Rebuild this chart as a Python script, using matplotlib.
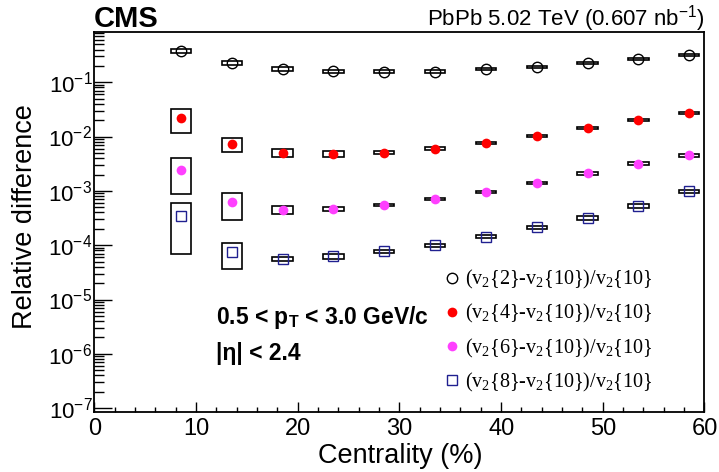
import numpy as np
import matplotlib
matplotlib.use("Agg")
import matplotlib.pyplot as plt
from matplotlib.patches import Rectangle
from matplotlib.lines import Line2D
from matplotlib.ticker import MultipleLocator, FixedLocator, NullFormatter

plt.rcParams['font.family'] = ['Liberation Sans', 'DejaVu Sans']

# centrality bin centres (%)
cent = [8.5, 13.5, 18.5, 23.5, 28.5, 33.5, 38.5, 43.5, 48.5, 53.5, 58.5]

# (v2{n}-v2{10})/v2{10}
v2_2 = [0.376, 0.224, 0.176, 0.158, 0.155, 0.157, 0.172, 0.193, 0.224, 0.265, 0.321]
v2_4 = [0.0218, 0.00735, 0.00508, 0.00474, 0.00508, 0.00601, 0.00766, 0.0103, 0.01425, 0.0200, 0.0268]
v2_6 = [0.00244, 0.000612, 0.000443, 0.000469, 0.000555, 0.000716, 0.000962, 0.00139, 0.00209, 0.00315, 0.00448]
v2_8 = [0.000339, 7.38e-5, 5.57e-5, 6.22e-5, 7.69e-5, 9.9e-5, 1.44e-4, 2.12e-4, 3.2e-4, 5.3e-4, 9.75e-4]

# relative systematic uncertainties (boxes)
sys_2 = [0.09, 0.08, 0.08, 0.07, 0.06, 0.05, 0.04, 0.04, 0.04, 0.04, 0.04]
sys_4 = [0.46, 0.30, 0.18, 0.12, 0.07, 0.06, 0.04, 0.04, 0.04, 0.04, 0.04]
sys_6 = [0.64, 0.52, 0.17, 0.09, 0.05, 0.04, 0.04, 0.05, 0.05, 0.06, 0.06]
sys_8 = [0.80, 0.50, 0.10, 0.10, 0.06, 0.05, 0.05, 0.06, 0.09, 0.08, 0.08]

labels = [r'(v$\mathregular{_2}${2}-v$\mathregular{_2}${10})/v$\mathregular{_2}${10}',
          r'(v$\mathregular{_2}${4}-v$\mathregular{_2}${10})/v$\mathregular{_2}${10}',
          r'(v$\mathregular{_2}${6}-v$\mathregular{_2}${10})/v$\mathregular{_2}${10}',
          r'(v$\mathregular{_2}${8}-v$\mathregular{_2}${10})/v$\mathregular{_2}${10}']

blue = '#202090'
magenta = '#ff40ff'

fig = plt.figure(figsize=(7.19, 4.72), dpi=100)
ax = fig.add_axes([0.1314, 0.1265, 0.8484, 0.8063])

series = [
    (v2_2, sys_2, dict(marker='o', ms=7.5, mfc='none', mec='black', mew=1.0)),
    (v2_4, sys_4, dict(marker='o', ms=7, mfc='red', mec='red', mew=0)),
    (v2_6, sys_6, dict(marker='o', ms=7, mfc=magenta, mec=magenta, mew=0)),
    (v2_8, sys_8, dict(marker='s', ms=7.5, mfc='none', mec=blue, mew=1.0)),
]

handles = []
for (vals, sys, style), lab in zip(series, labels):
    for x, v, s in zip(cent, vals, sys):
        ax.add_patch(Rectangle((x - 1.0, v * (1 - s)), 2.0, 2 * s * v,
                               fill=False, edgecolor='black', lw=1.2, zorder=2))
    ax.plot(cent, vals, ls='none', zorder=3, **style)
    handles.append(Line2D([], [], ls='none', **style))

ax.set_yscale('log')
ax.set_xlim(0, 60)
ax.set_ylim(8.4e-8, 0.85)

ax.xaxis.set_major_locator(MultipleLocator(10))
ax.xaxis.set_minor_locator(MultipleLocator(2))
decades = [1e-7, 1e-6, 1e-5, 1e-4, 1e-3, 1e-2, 1e-1]
ax.yaxis.set_major_locator(FixedLocator(decades))
minors = [m * d for d in decades for m in range(2, 10) if m * d < 0.85]
ax.yaxis.set_minor_locator(FixedLocator(minors))
ax.yaxis.set_minor_formatter(NullFormatter())

ax.tick_params(axis='both', which='both', direction='in', top=False, right=False)
ax.tick_params(axis='x', which='major', length=7.2, width=1.0, pad=4, labelsize=17)
ax.tick_params(axis='x', which='minor', length=3.6, width=1.0)
ax.tick_params(axis='y', which='major', length=13, width=1.0, pad=1.5, labelsize=16)
ax.tick_params(axis='y', which='minor', length=7, width=1.0)
for sp in ax.spines.values():
    sp.set_linewidth(1.3)

ax.set_xlabel('Centrality (%)', fontsize=19.5, va='center')
ax.xaxis.set_label_coords(0.5008, -0.115)
ax.set_ylabel('Relative difference', fontsize=19.5, va='center')
ax.yaxis.set_label_coords(-0.114, 0.514)

fig.text(94 / 719, 1 - 27 / 472, 'CMS', fontsize=21, fontweight='bold', va='baseline', ha='left')
fig.text(705 / 719, 1 - 26 / 472, r'PbPb 5.02 TeV (0.607 nb$\mathregular{^{-1}}$)',
         fontsize=16, va='baseline', ha='right')

ax.text(0.2, 0.232, r'0.5 < p$\mathregular{_T}$ < 3.0 GeV/c', transform=ax.transAxes,
        fontsize=16.5, fontweight='bold', va='baseline', ha='left')
ax.text(0.2, 0.138, '|η| < 2.4', transform=ax.transAxes,
        fontsize=16.5, fontweight='bold', va='baseline', ha='left')

leg = ax.legend(handles, labels, loc='upper left', bbox_to_anchor=(0.573, 0.379),
                frameon=False, handlelength=0.8, handletextpad=0.25, labelspacing=0.56,
                borderpad=0, borderaxespad=0,
                prop={'family': ['Liberation Serif', 'DejaVu Serif'], 'size': 14.5})

fig.savefig('out.png', dpi=100)
